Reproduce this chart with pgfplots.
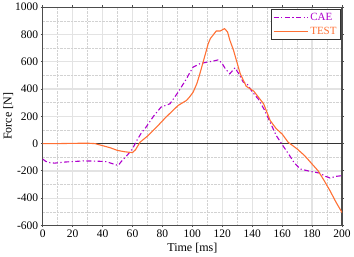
\documentclass[border=0pt]{standalone}
\usepackage{pgfplots}
\pgfplotsset{compat=1.18}
\usepackage{fontspec}
\setmainfont{Liberation Serif}
\definecolor{caec}{RGB}{175,0,205}
\definecolor{testc}{RGB}{255,112,52}
\begin{document}
\begin{tikzpicture}
\begin{axis}[
  scale only axis, width=299pt, height=218pt,
  xmin=0, xmax=200, ymin=-600, ymax=1000,
  xtick={0,20,...,200}, ytick={-600,-400,...,1000},
  minor x tick num=1, minor y tick num=1,
  grid=both,
  major grid style={gray!22, line width=1.3pt},
  minor grid style={gray!35, densely dotted, line width=0.5pt},
  axis line style={black!70, line width=1.3pt},
  tick align=outside, major tick length=2pt, minor tick length=0pt,
  tick style={black!70, line width=0.8pt},
  ticklabel style={font=\fontsize{11.5}{12}\selectfont},
  /pgf/number format/assume math mode=true,
  /pgf/number format/1000 sep={},
  xticklabel style={yshift=1pt},
  yticklabel style={xshift=1pt},
  xlabel={Time [ms]}, ylabel={Force [N]},
  label style={font=\fontsize{12}{13}\selectfont},
  xlabel style={yshift=1pt}, ylabel style={yshift=-5pt},
  legend style={at={(0.995,0.99)}, anchor=north east, draw=black!80, line width=0.9pt, font=\fontsize{11}{12}\selectfont, inner sep=1.5pt, row sep=1pt, legend cell align=left},
  legend image code/.code={\draw[#1, line width=1.1pt] (0pt,0pt) -- (34pt,0pt);},
  clip=true,
]
\addplot[black!80, line width=0.8pt, forget plot] coordinates {(0,0) (200,0)};
\addplot[caec, line width=1.1pt, dash pattern=on 5pt off 2.5pt on 1.2pt off 2.5pt] coordinates {
(0,-113) (2,-130) (5,-140) (8,-143) (15,-135) (27,-127) (35,-128) (42.6,-132) (46,-145) (50.4,-160)
(53,-125) (56,-91) (60,-39) (62.7,20) (66,80) (69,120) (74,200) (79,267) (85,292) (90.5,377)
(96,475) (98.5,524) (100.5,561) (103,574) (105,586) (110,598) (114,605) (117.5,615) (120,586)
(122,549) (125,512) (128.5,556) (131,512) (134,451) (136.5,439) (140,380) (143,340) (144,328) (148,250) (153,132)
(156,60) (159.7,-2) (165,-88) (168,-140) (172,-186) (178.6,-203) (185,-216) (189,-240) (192,-252) (196,-240) (200,-235)};
\addlegendentry{\textcolor{caec}{CAE}}
\addplot[testc, line width=1.1pt] coordinates {
(0,0) (10,0) (20,2) (30,3) (35,0) (40,-15) (45,-30) (50,-50) (55,-60) (60,-66) (62,-45)
(65,10) (70,55) (76,120) (82,190) (87,243) (90.5,280) (96,316) (98,340) (100.5,377) (103,440) (105,512)
(108,630) (110.6,733) (112,770) (116,826) (118.6,826) (121.5,843) (123.5,819) (125,760) (127.5,684)
(132,512) (136,420) (141,385) (147.6,292) (152,169) (156,110) (160,70) (164,10) (170,-39) (175,-88)
(180,-150) (184,-199) (188,-270) (192,-346) (196,-430) (200,-505)};
\addlegendentry{\textcolor{testc}{TEST}}
\end{axis}
\end{tikzpicture}
\end{document}
